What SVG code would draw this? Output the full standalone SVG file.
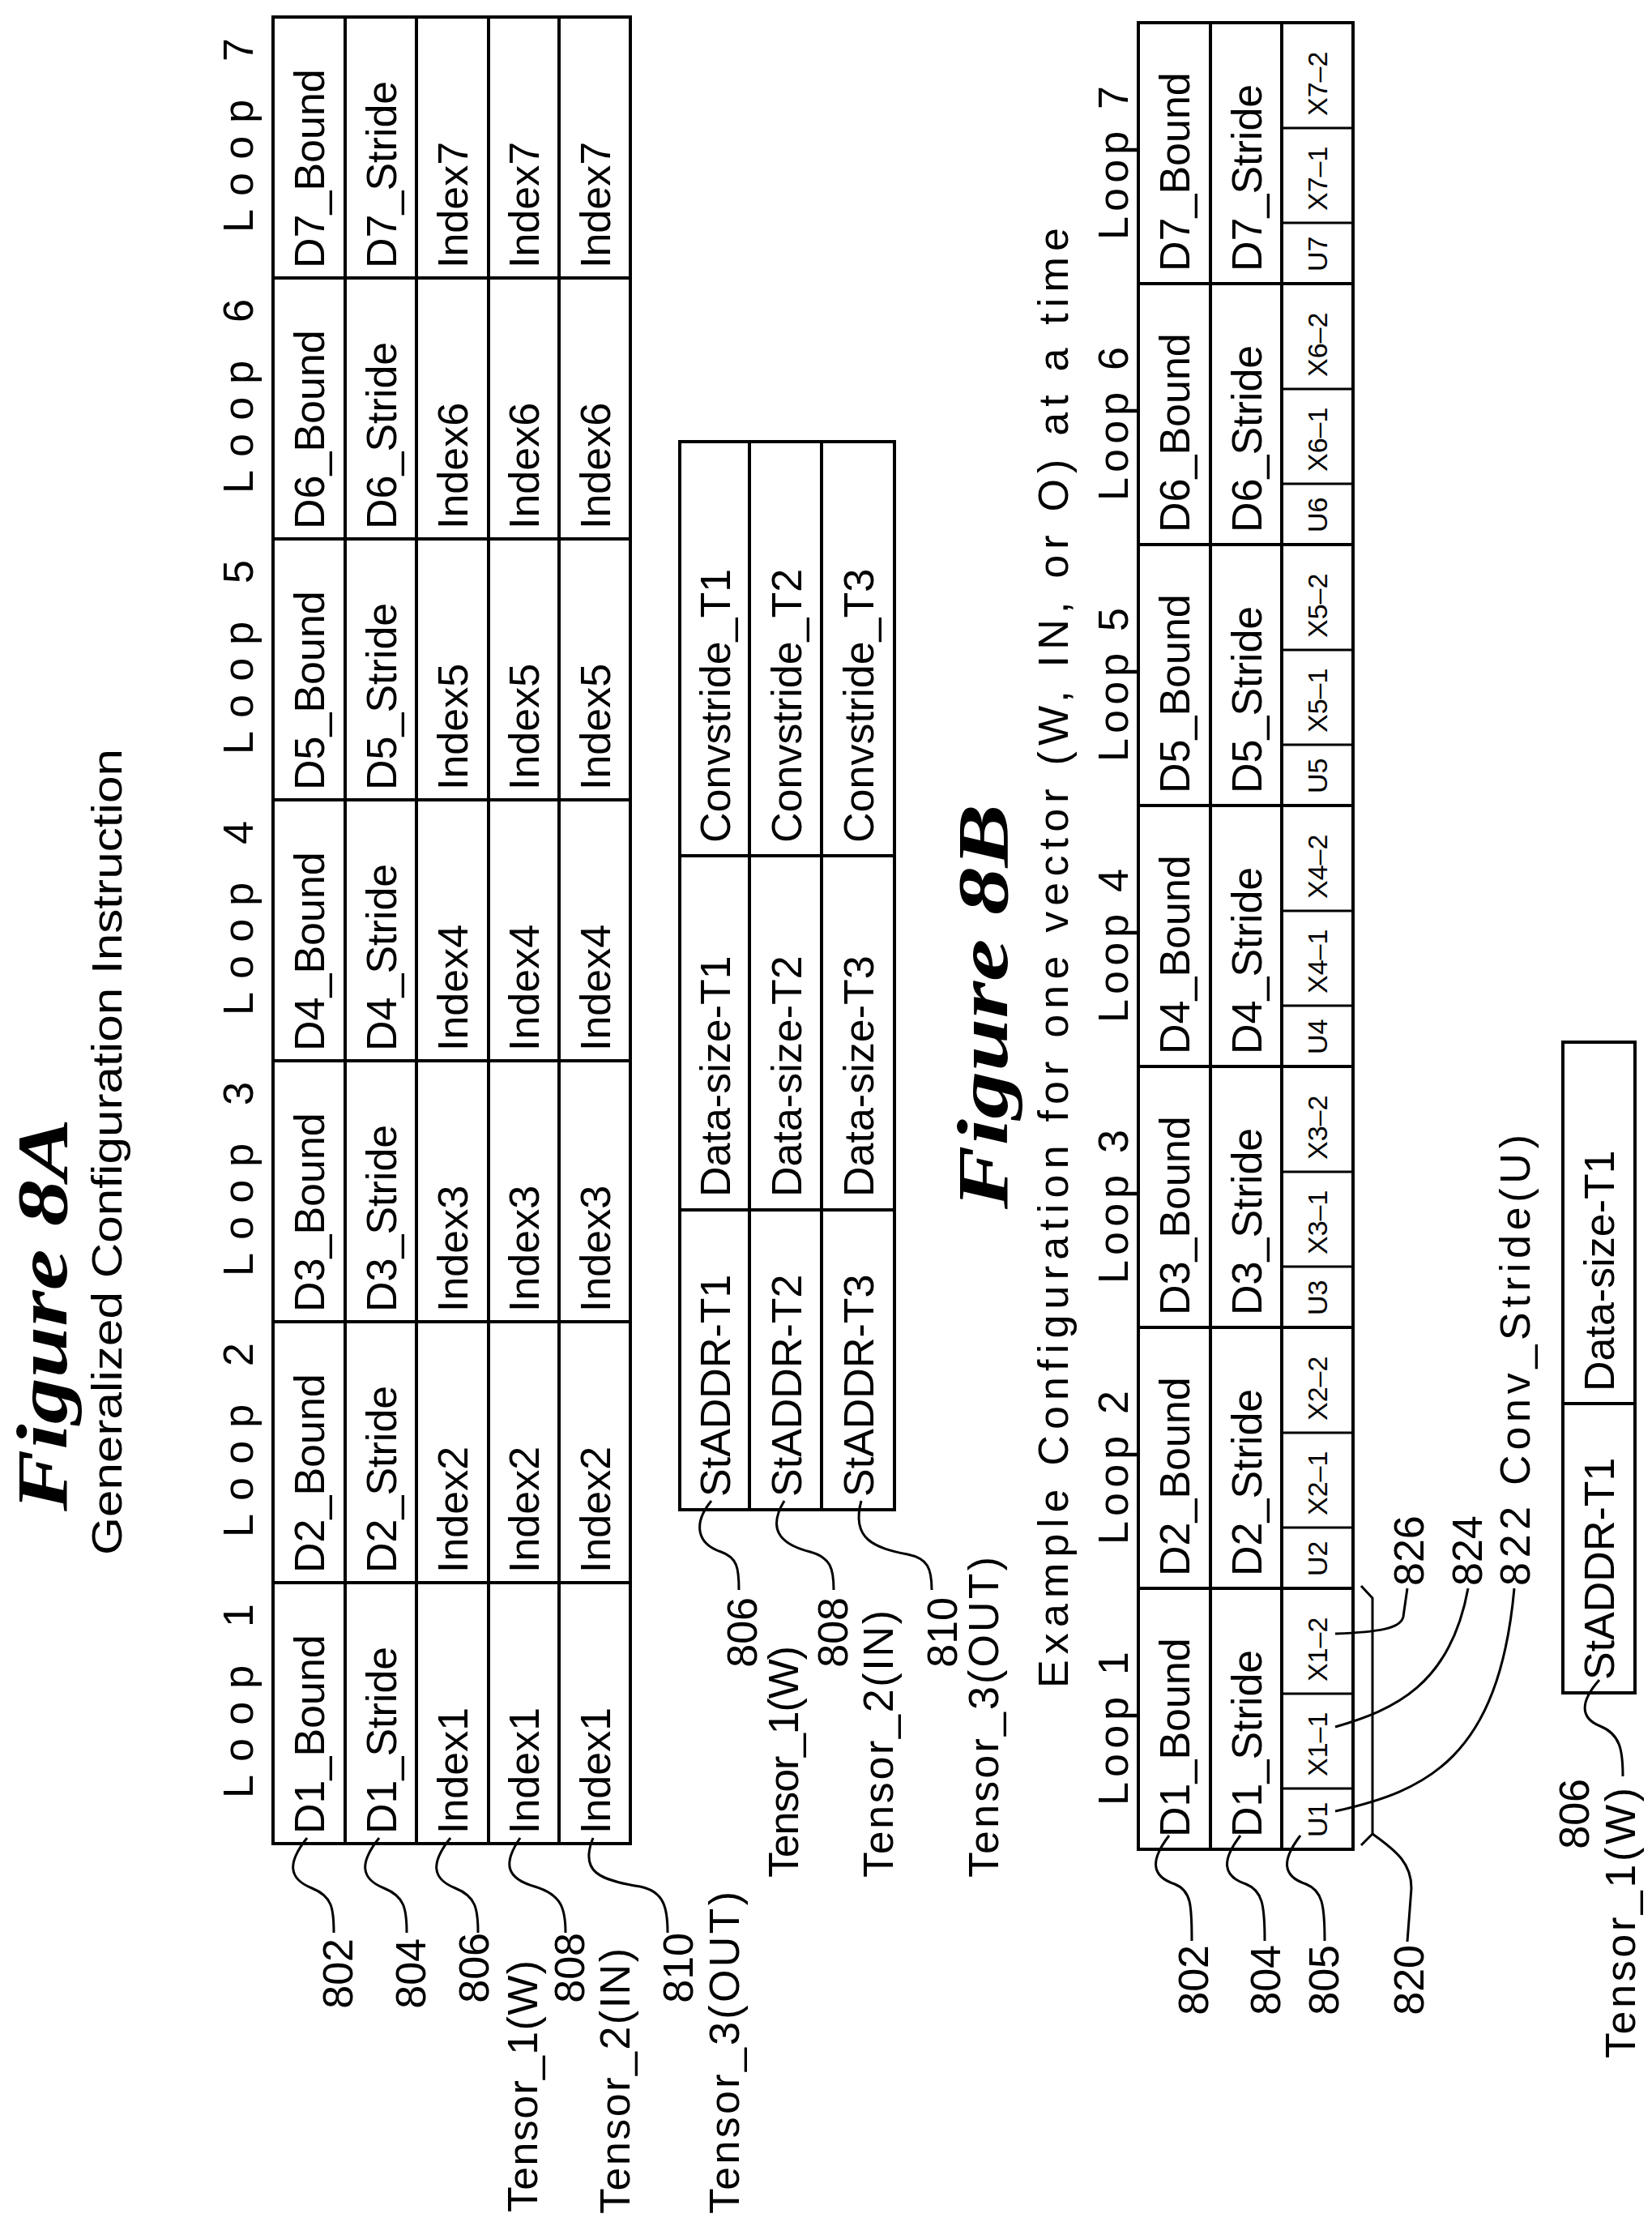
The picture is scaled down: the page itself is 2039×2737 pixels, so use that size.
<svg xmlns="http://www.w3.org/2000/svg" width="2039" height="2737" viewBox="0 0 2039 2737">
<style>
.t{font-family:"Liberation Sans",Arial,sans-serif;font-size:52px;fill:#000}
.s{font-family:"Liberation Sans",Arial,sans-serif;font-size:34px;fill:#000}
.e{text-anchor:end}
.m{text-anchor:middle}
.fig{font-family:"Liberation Serif","Times New Roman",serif;font-size:88px;font-weight:bold;font-style:italic;fill:#000}
.b{fill:none;stroke:#000;stroke-width:4}
.l{fill:none;stroke:#000;stroke-width:3}
</style>
<rect width="2039" height="2737" fill="#fff"/>
<g transform="translate(0,2737) rotate(-90)">
<g id="fig8a-title">
<text class="fig" x="872" y="82" textLength="485" lengthAdjust="spacingAndGlyphs">Figure 8A</text>
<text class="t" x="818" y="150" textLength="995" lengthAdjust="spacingAndGlyphs">Generalized Configuration Instruction</text>
</g>
<g id="fig8a-loops" class="t m">
<text x="638" y="312" textLength="240">Loop 1</text>
<text x="960" y="312" textLength="240">Loop 2</text>
<text x="1282" y="312" textLength="240">Loop 3</text>
<text x="1604" y="312" textLength="240">Loop 4</text>
<text x="1926" y="312" textLength="240">Loop 5</text>
<text x="2248" y="312" textLength="240">Loop 6</text>
<text x="2570" y="312" textLength="240">Loop 7</text>
</g>
<g id="table-8a">
<rect class="b" x="462" y="337" width="2254" height="441"/>
<path class="b" d="M462,426H2716M462,514H2716M462,603H2716M462,690H2716M784,337V778M1106,337V778M1428,337V778M1750,337V778M2072,337V778M2394,337V778"/>
<g class="t">
<text x="474" y="400">D1_Bound</text><text x="796" y="400">D2_Bound</text><text x="1118" y="400">D3_Bound</text><text x="1440" y="400">D4_Bound</text><text x="1762" y="400">D5_Bound</text><text x="2084" y="400">D6_Bound</text><text x="2406" y="400">D7_Bound</text>
<text x="474" y="489">D1_Stride</text><text x="796" y="489">D2_Stride</text><text x="1118" y="489">D3_Stride</text><text x="1440" y="489">D4_Stride</text><text x="1762" y="489">D5_Stride</text><text x="2084" y="489">D6_Stride</text><text x="2406" y="489">D7_Stride</text>
<text x="474" y="577">Index1</text><text x="796" y="577">Index2</text><text x="1118" y="577">Index3</text><text x="1440" y="577">Index4</text><text x="1762" y="577">Index5</text><text x="2084" y="577">Index6</text><text x="2406" y="577">Index7</text>
<text x="474" y="665">Index1</text><text x="796" y="665">Index2</text><text x="1118" y="665">Index3</text><text x="1440" y="665">Index4</text><text x="1762" y="665">Index5</text><text x="2084" y="665">Index6</text><text x="2406" y="665">Index7</text>
<text x="474" y="753">Index1</text><text x="796" y="753">Index2</text><text x="1118" y="753">Index3</text><text x="1440" y="753">Index4</text><text x="1762" y="753">Index5</text><text x="2084" y="753">Index6</text><text x="2406" y="753">Index7</text>
</g>
</g>
<g id="labels-8a" class="t e">
<text x="345" y="435">802</text>
<text x="345" y="525">804</text>
<text x="352" y="603">806</text>
<text x="318" y="663" textLength="311">Tensor_1(W)</text>
<text x="352" y="721">808</text>
<text x="333" y="777" textLength="328">Tensor_2(IN)</text>
<text x="352" y="855">810</text>
<text x="403" y="912" textLength="398">Tensor_3(OUT)</text>
</g>
<g id="table-8a-addr">
<rect class="b" x="874" y="839" width="1318" height="265"/>
<path class="b" d="M874,925H2192M874,1014H2192M1244,839V1104M1681,839V1104"/>
<g class="t">
<text x="890" y="901">StADDR-T1</text><text x="890" y="989">StADDR-T2</text><text x="890" y="1078">StADDR-T3</text>
<text x="1260" y="901">Data-size-T1</text><text x="1260" y="989">Data-size-T2</text><text x="1260" y="1078">Data-size-T3</text>
<text x="1697" y="901">Convstride_T1</text><text x="1697" y="989">Convstride_T2</text><text x="1697" y="1078">Convstride_T3</text>
</g>
</g>
<g id="labels-8a-addr" class="t e">
<text x="766" y="934">806</text>
<text x="706" y="985" textLength="286">Tensor_1(W)</text>
<text x="766" y="1046">808</text>
<text x="750" y="1102" textLength="330">Tensor_2(IN)</text>
<text x="766" y="1181">810</text>
<text x="816" y="1232" textLength="396">Tensor_3(OUT)</text>
</g>
<g id="fig8b-title">
<text class="fig" x="1245" y="1243" textLength="500" lengthAdjust="spacingAndGlyphs">Figure 8B</text>
<text class="t" x="654" y="1318" textLength="1802">Example Configuration for one vector (W, IN, or O) at a time</text>
</g>
<g id="fig8b-loops" class="t m">
<text x="604" y="1392" textLength="190">Loop 1</text>
<text x="926" y="1392" textLength="190">Loop 2</text>
<text x="1248" y="1392" textLength="190">Loop 3</text>
<text x="1570" y="1392" textLength="190">Loop 4</text>
<text x="1892" y="1392" textLength="190">Loop 5</text>
<text x="2214" y="1392" textLength="190">Loop 6</text>
<text x="2536" y="1392" textLength="190">Loop 7</text>
</g>
<g id="table-8b">
<rect class="b" x="455" y="1405" width="2254" height="265"/>
<path class="b" d="M455,1494H2709M455,1582H2709M777,1405V1670M1099,1405V1670M1421,1405V1670M1743,1405V1670M2065,1405V1670M2387,1405V1670"/>
<path class="l" d="M530,1582V1670M647,1582V1670M852,1582V1670M969,1582V1670M1174,1582V1670M1291,1582V1670M1496,1582V1670M1613,1582V1670M1818,1582V1670M1935,1582V1670M2140,1582V1670M2257,1582V1670M2462,1582V1670M2579,1582V1670"/>
<g class="t">
<text x="470" y="1468">D1_Bound</text><text x="792" y="1468">D2_Bound</text><text x="1114" y="1468">D3_Bound</text><text x="1436" y="1468">D4_Bound</text><text x="1758" y="1468">D5_Bound</text><text x="2080" y="1468">D6_Bound</text><text x="2402" y="1468">D7_Bound</text>
<text x="470" y="1557">D1_Stride</text><text x="792" y="1557">D2_Stride</text><text x="1114" y="1557">D3_Stride</text><text x="1436" y="1557">D4_Stride</text><text x="1758" y="1557">D5_Stride</text><text x="2080" y="1557">D6_Stride</text><text x="2402" y="1557">D7_Stride</text>
</g>
<g class="s">
<text x="470" y="1638">U1</text><text x="545" y="1638">X1–1</text><text x="662" y="1638">X1–2</text>
<text x="792" y="1638">U2</text><text x="867" y="1638">X2–1</text><text x="984" y="1638">X2–2</text>
<text x="1114" y="1638">U3</text><text x="1189" y="1638">X3–1</text><text x="1306" y="1638">X3–2</text>
<text x="1436" y="1638">U4</text><text x="1511" y="1638">X4–1</text><text x="1628" y="1638">X4–2</text>
<text x="1758" y="1638">U5</text><text x="1833" y="1638">X5–1</text><text x="1950" y="1638">X5–2</text>
<text x="2080" y="1638">U6</text><text x="2155" y="1638">X6–1</text><text x="2272" y="1638">X6–2</text>
<text x="2402" y="1638">U7</text><text x="2477" y="1638">X7–1</text><text x="2594" y="1638">X7–2</text>
</g>
</g>
<g id="labels-8b" class="t">
<text class="e" x="337" y="1491">802</text>
<text class="e" x="337" y="1580">804</text>
<text class="e" x="337" y="1652">805</text>
<text class="e" x="337" y="1757">820</text>
<text x="780" y="1757">826</text>
<text x="780" y="1829">824</text>
<text x="780" y="1888" textLength="557">822 Conv_Stride(U)</text>
</g>
<g id="table-8b-addr">
<rect class="b" x="648" y="1929" width="803" height="89"/>
<path class="b" d="M1005,1929V2018"/>
<text class="t" x="664" y="1992">StADDR-T1</text>
<text class="t" x="1020" y="1992">Data-size-T1</text>
</g>
<g id="labels-8b-addr" class="t e">
<text x="542" y="1961">806</text>
<text x="531" y="2018" textLength="334">Tensor_1(W)</text>
</g>
</g>
<g id="connectors" class="l">
<path d="M379,2268 C355,2298 355,2318 385,2330 C410,2340 412,2355 412,2385"/>
<path d="M468,2268 C444,2298 444,2318 474,2330 C499,2340 502,2355 502,2385"/>
<path d="M556,2268 C532,2298 532,2318 562,2330 C587,2340 590,2355 590,2385"/>
<path d="M642,2268 C620,2300 625,2318 660,2328 C693,2338 698,2355 698,2385"/>
<path d="M732,2268 C715,2310 740,2320 790,2328 C820,2334 824,2355 824,2385"/>
<path d="M878,1852 C855,1880 860,1905 890,1915 C910,1922 912,1935 912,1962"/>
<path d="M968,1852 C948,1885 960,1905 1000,1915 C1025,1922 1029,1935 1029,1962"/>
<path d="M1063,1852 C1050,1900 1080,1910 1120,1918 C1145,1923 1150,1935 1150,1962"/>
<path d="M1443,2265 C1420,2295 1420,2315 1450,2325 C1470,2333 1471,2350 1471,2395"/>
<path d="M1531,2265 C1508,2295 1508,2315 1538,2325 C1558,2333 1561,2350 1561,2395"/>
<path d="M1605,2265 C1582,2295 1582,2315 1612,2325 C1632,2333 1635,2350 1635,2395"/>
<path d="M1680,1957 L1694,1972 L1694,2263 L1680,2277"/>
<path d="M1694,2263 C1725,2285 1742,2300 1742,2330 L1737,2396"/>
<path d="M1648,2016 C1700,2014 1729,2010 1732,1995 L1737,1960"/>
<path d="M1648,2131 C1720,2110 1790,2080 1812,1960"/>
<path d="M1648,2235 C1760,2210 1850,2170 1869,1960"/>
<path d="M1974,2073 C1950,2100 1950,2120 1975,2130 C2000,2140 2003,2160 2003,2192"/>
</g>
</svg>
